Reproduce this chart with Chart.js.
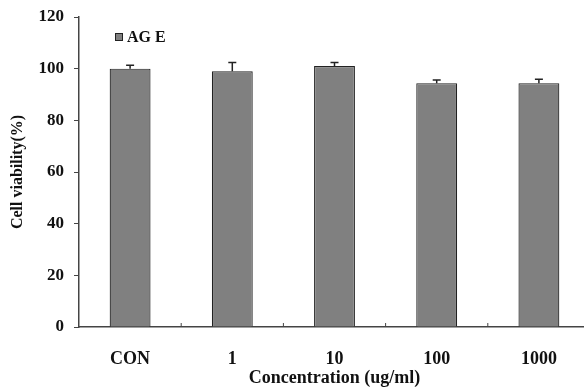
<!DOCTYPE html>
<html>
<head>
<meta charset="utf-8">
<script src="https://cdn.jsdelivr.net/npm/chart.js@4/dist/chart.umd.min.js"></script>
<style>
  html, body { margin: 0; padding: 0; background: #fff; overflow: hidden; }
  #wrap { width: 590px; height: 387px; }
</style>
</head>
<body>
<div id="wrap"><canvas id="c" width="590" height="387"></canvas></div>
<script>
// data
const categories = ['CON', '1', '10', '100', '1000'];
const viability = [100, 99, 101, 94.4, 94.4];
const errUp = [1.3, 3.4, 1.4, 1.2, 1.5];
const yTicks = [0, 20, 40, 60, 80, 100, 120];

const SERIF = '"Liberation Serif", "Times New Roman", serif';
const AXIS = '#444';

// upward-only error bars
const errorBars = {
  id: 'errorBars',
  afterDatasetsDraw(chart) {
    const ctx = chart.ctx;
    const y = chart.scales.y;
    const meta = chart.getDatasetMeta(0);
    ctx.save();
    ctx.strokeStyle = '#222';
    ctx.lineWidth = 1.5;
    meta.data.forEach((bar, i) => {
      const top = y.getPixelForValue(viability[i] + errUp[i]);
      ctx.beginPath();
      ctx.moveTo(bar.x, bar.y);
      ctx.lineTo(bar.x, top);
      ctx.moveTo(bar.x - 4, top);
      ctx.lineTo(bar.x + 4, top);
      ctx.stroke();
    });
    ctx.restore();
  }
};

// small inward ticks between categories on the x axis
const xTickMarks = {
  id: 'xTickMarks',
  afterDraw(chart) {
    const ctx = chart.ctx;
    const x = chart.scales.x;
    const base = chart.chartArea.bottom;
    ctx.save();
    ctx.strokeStyle = AXIS;
    ctx.lineWidth = 1;
    for (let i = 0; i < categories.length - 1; i++) {
      const px = (x.getPixelForValue(i) + x.getPixelForValue(i + 1)) / 2;
      ctx.beginPath();
      ctx.moveTo(px, base);
      ctx.lineTo(px, base - 4);
      ctx.stroke();
    }
    ctx.restore();
  }
};

// legend box placed inside the plot, top left
const innerLegend = {
  id: 'innerLegend',
  afterDraw(chart) {
    const ctx = chart.ctx;
    const ds = chart.data.datasets[0];
    const bx = chart.chartArea.left + 36;
    const by = chart.chartArea.top + 16;
    ctx.save();
    ctx.fillStyle = ds.backgroundColor;
    ctx.strokeStyle = '#222';
    ctx.lineWidth = 1;
    ctx.fillRect(bx, by, 8, 8);
    ctx.strokeRect(bx + 0.5, by + 0.5, 7, 7);
    ctx.fillStyle = '#111';
    ctx.font = 'bold 16px ' + SERIF;
    ctx.textBaseline = 'middle';
    ctx.fillText(ds.label, bx + 12, by + 4.5);
    ctx.restore();
  }
};

new Chart(document.getElementById('c'), {
  type: 'bar',
  data: {
    labels: categories,
    datasets: [{
      label: 'AG E',
      data: viability,
      backgroundColor: '#808080',
      borderColor: '#222',
      borderWidth: 1.2,
      barPercentage: 0.4,
      categoryPercentage: 1.0,
    }],
  },
  options: {
    responsive: false,
    animation: false,
    layout: { padding: { top: 17, right: 0, bottom: 0, left: 0 } },
    plugins: {
      legend: { display: false },
      tooltip: { enabled: false },
    },
    scales: {
      x: {
        afterFit: (s) => { s.height = 60; },
        grid: { display: false },
        border: { color: AXIS, width: 1.5 },
        ticks: {
          color: '#111',
          padding: 14,
          font: { family: SERIF, size: 18, weight: 'bold' },
        },
        title: {
          display: true,
          text: 'Concentration (ug/ml)',
          color: '#111',
          padding: { top: 0, bottom: -2 },
          font: { family: SERIF, size: 18, weight: 'bold' },
        },
      },
      y: {
        min: 0,
        max: 120,
        afterFit: (s) => { s.width = 79; s.paddingTop = 0; s.paddingBottom = 0; },
        afterBuildTicks: (s) => { s.ticks = yTicks.map(v => ({ value: v })); },
        grid: { display: true, drawOnChartArea: false, tickLength: 5, color: AXIS },
        border: { color: AXIS, width: 1.5 },
        ticks: {
          color: '#111',
          padding: 10,
          font: { family: SERIF, size: 17, weight: 'bold' },
        },
        title: {
          display: true,
          text: 'Cell viability(%)',
          color: '#111',
          padding: { top: 8, bottom: 4 },
          font: { family: SERIF, size: 16, weight: 'bold' },
        },
      },
    },
  },
  plugins: [errorBars, xTickMarks, innerLegend],
});
</script>
</body>
</html>
